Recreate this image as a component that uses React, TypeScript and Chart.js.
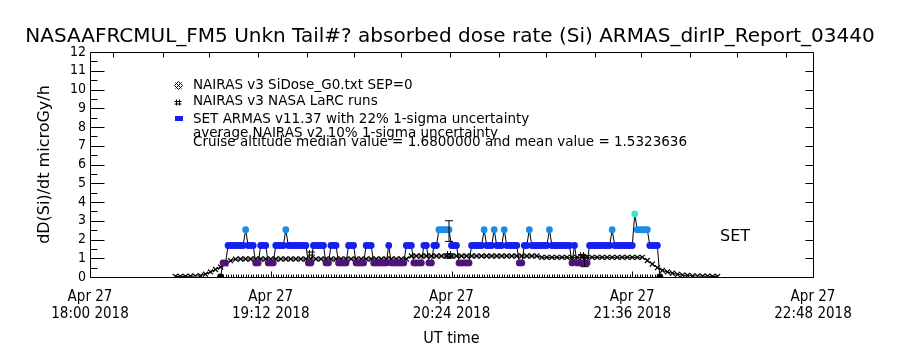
import React, { useEffect, useRef } from 'react';
import { Chart, registerables } from 'chart.js';

Chart.register(...registerables);

// ---------------- text ----------------
const TITLE = 'NASAAFRCMUL_FM5 Unkn Tail#? absorbed dose rate (Si) ARMAS_dirIP_Report_03440';
const Y_TITLE = 'dD(Si)/dt microGy/h';
const X_TITLE = 'UT time';
const LEGEND_TEXT = [
  'NAIRAS v3 SiDose_G0.txt SEP=0',
  'NAIRAS v3 NASA LaRC runs',
  'SET ARMAS v11.37 with 22% 1-sigma uncertainty',
  'average NAIRAS v2 10% 1-sigma uncertainty',
  'Cruise altitude median value = 1.6800000 and mean value = 1.5323636',
];
const SET_LABEL = 'SET';

// ---------------- axes (minutes after 18:00 UT) ----------------
const X_MIN = 0;
const X_MAX = 288;
const X_TICK_MIN = [0, 72, 144, 216, 288];
const X_TICK_DATE = ['Apr 27', 'Apr 27', 'Apr 27', 'Apr 27', 'Apr 27'];
const X_TICK_TIME = ['18:00 2018', '19:12 2018', '20:24 2018', '21:36 2018', '22:48 2018'];
const TOP_TICK_MIN = [9.3, 28.9, 47.4, 67.0, 86.6, 105.2, 123.8, 143.3, 162.9, 181.5, 201.1, 219.6, 239.2, 257.8, 277.3];
const Y_MIN = 0;
const Y_MAX = 12;

// ---------------- SET ARMAS dose rate, one sample per minute from 18:52 ----------------
const SET_T0 = 52;
const SET_DOSE = [
  0,
  0.75, 0.75,
  1.68, 1.68, 1.68, 1.68, 1.68, 1.68, 1.68,
  2.52,
  1.68, 1.68, 1.68,
  0.75, 0.75,
  1.68, 1.68, 1.68,
  0.75, 0.75, 0.75,
  1.68, 1.68, 1.68, 1.68,
  2.52,
  1.68, 1.68, 1.68, 1.68, 1.68, 1.68, 1.68, 1.68,
  0.75, 0.75,
  1.68, 1.68, 1.68, 1.68, 1.68,
  0.75, 0.75,
  1.68, 1.68, 1.68,
  0.75, 0.75, 0.75, 0.75,
  1.68, 1.68, 1.68,
  0.75, 0.75, 0.75, 0.75,
  1.68, 1.68, 1.68,
  0.75, 0.75, 0.75, 0.75, 0.75, 0.75,
  1.68,
  0.75, 0.75, 0.75, 0.75, 0.75, 0.75,
  1.68, 1.68, 1.68,
  0.75, 0.75, 0.75, 0.75,
  1.68, 1.68,
  0.75, 0.75,
  1.68, 1.68,
  2.52, 2.52, 2.52, 2.52, 2.52,
  1.68, 1.68, 1.68,
  0.75, 0.75, 0.75, 0.75, 0.75,
  1.68, 1.68, 1.68, 1.68, 1.68,
  2.52,
  1.68, 1.68, 1.68,
  2.52,
  1.68, 1.68, 1.68,
  2.52,
  1.68, 1.68, 1.68, 1.68, 1.68,
  0.75, 0.75,
  1.68, 1.68,
  2.52,
  1.68, 1.68, 1.68, 1.68, 1.68, 1.68, 1.68,
  2.52,
  1.68, 1.68, 1.68, 1.68, 1.68, 1.68, 1.68, 1.68,
  0.75,
  1.68,
  0.75, 0.75, 0.75, 0.75, 0.75,
  1.68, 1.68, 1.68, 1.68, 1.68, 1.68, 1.68, 1.68, 1.68,
  2.52,
  1.68, 1.68, 1.68, 1.68, 1.68, 1.68, 1.68, 1.68,
  3.36,
  2.52, 2.52, 2.52, 2.52, 2.52,
  1.68, 1.68, 1.68, 1.68,
  0,
];
const SET_LEVELS = [0, 0.75, 1.68, 2.52, 3.36];
const SET_LEVEL_COLORS = ['#000000', '#501478', '#1620ee', '#1e8ce6', '#3ce6c8'];

// ---------------- NAIRAS v3 model, every 2 minutes from 18:34 ----------------
const NAIRAS_T0 = 34;
const NAIRAS_STEP = 2;
const NAIRAS_DOSE = [
  0.03, 0.03, 0.03, 0.04, 0.05, 0.07, 0.15, 0.27, 0.40, 0.53, 0.70, 0.87, 0.95,
  0.96, 0.96, 0.96, 0.96, 0.96, 0.96, 0.96, 0.96, 0.96, 0.96,
  0.96, 0.96, 0.96, 0.96, 0.96, 0.96, 0.96, 0.96, 0.96, 0.96,
  0.96, 0.96, 0.96, 0.96, 0.96, 0.96, 0.96, 0.96, 0.96, 0.96,
  0.96, 0.96, 0.96, 0.96,
  1.12, 1.12, 1.12, 1.12, 1.12, 1.12, 1.12, 1.12, 1.12, 1.12,
  1.12, 1.12, 1.12, 1.12, 1.12, 1.12, 1.12, 1.12, 1.12, 1.12,
  1.12, 1.12, 1.12, 1.12, 1.12, 1.12,
  1.05, 1.05, 1.05, 1.05, 1.05, 1.05, 1.05, 1.05, 1.05, 1.05,
  1.05, 1.05, 1.05, 1.05, 1.05, 1.05, 1.05, 1.05, 1.05, 1.05, 1.05,
  0.88, 0.69, 0.50, 0.35, 0.27, 0.20, 0.14, 0.10, 0.08, 0.06, 0.05, 0.04, 0.04, 0.03, 0.03,
];

// ---------------- NAIRAS LaRC runs ----------------
const LARC_MIN = [88, 143, 196];
const LARC_DOSE = [1.25, 1.15, 1.12];

// ---------------- 1-sigma error bars ----------------
const ERR_MIN = [143, 143, 197];
const ERR_LO = [1.9, 1.01, 0.55];
const ERR_HI = [3.0, 1.23, 1.15];

const FONT = '"DejaVu Sans", sans-serif';
const FONT_C = '"DejaVu Sans Condensed", "DejaVu Sans", sans-serif';

function levelColor(v: number) {
  let best = 0;
  for (let i = 0; i < SET_LEVELS.length; i++) {
    if (Math.abs(SET_LEVELS[i] - v) < Math.abs(SET_LEVELS[best] - v)) best = i;
  }
  return SET_LEVEL_COLORS[best];
}

function makeHash(): HTMLCanvasElement {
  const c = document.createElement('canvas');
  c.width = 8;
  c.height = 8;
  const g = c.getContext('2d')!;
  g.strokeStyle = '#000';
  g.lineWidth = 1;
  g.beginPath();
  g.moveTo(2.5, 0); g.lineTo(2.5, 8);
  g.moveTo(5.5, 0); g.lineTo(5.5, 8);
  g.moveTo(0, 2.5); g.lineTo(8, 2.5);
  g.moveTo(0, 5.5); g.lineTo(8, 5.5);
  g.stroke();
  return c;
}

const framePlugin = {
  id: 'idlFrame',
  afterDatasetsDraw(chart: any) {
    const { ctx, chartArea: a, scales } = chart;
    const xs = scales.x;
    const ys = scales.y;
    const L = Math.round(a.left) + 0.5;
    const R = Math.round(a.right) + 0.5;
    const T = Math.round(a.top) + 0.5;
    const B = Math.round(a.bottom) + 0.5;
    ctx.save();
    ctx.strokeStyle = '#000';
    ctx.lineWidth = 1;
    ctx.beginPath();
    ctx.rect(L, T, R - L, B - T);
    for (let v = Y_MIN; v <= Y_MAX + 1e-9; v += 0.5) {
      const py = Math.round(ys.getPixelForValue(v)) + 0.5;
      const major = Math.abs(v - Math.round(v)) < 1e-6;
      ctx.moveTo(L, py);
      ctx.lineTo(L + (major ? 14 : 7), py);
      if (major) {
        ctx.moveTo(R, py);
        ctx.lineTo(R - 8, py);
      }
    }
    X_TICK_MIN.forEach((m) => {
      const px = Math.round(xs.getPixelForValue(m)) + 0.5;
      ctx.moveTo(px, B);
      ctx.lineTo(px, B - 6);
    });
    TOP_TICK_MIN.forEach((m) => {
      const px = Math.round(xs.getPixelForValue(m)) + 0.5;
      ctx.moveTo(px, T);
      ctx.lineTo(px, T + 5);
    });
    SET_DOSE.forEach((_, i) => {
      const px = Math.round(xs.getPixelForValue(SET_T0 + i)) + 0.5;
      ctx.moveTo(px, B);
      ctx.lineTo(px, B - 3);
    });
    ctx.stroke();
    ctx.restore();
  },
  afterDraw(chart: any) {
    const ctx = chart.ctx;
    ctx.save();
    ctx.fillStyle = '#000';
    ctx.strokeStyle = '#000';
    ctx.lineWidth = 1;
    // legend symbols
    ctx.beginPath();
    const sx = 178.5, sy1 = 85.5;
    ctx.moveTo(sx - 3, sy1 - 3); ctx.lineTo(sx + 3, sy1 + 3);
    ctx.moveTo(sx - 3, sy1 + 3); ctx.lineTo(sx + 3, sy1 - 3);
    ctx.moveTo(sx, sy1 - 4); ctx.lineTo(sx + 4, sy1); ctx.lineTo(sx, sy1 + 4); ctx.lineTo(sx - 4, sy1); ctx.closePath();
    const sy2 = 102.5;
    ctx.moveTo(sx - 2, sy2 - 3); ctx.lineTo(sx - 2, sy2 + 3);
    ctx.moveTo(sx + 1, sy2 - 3); ctx.lineTo(sx + 1, sy2 + 3);
    ctx.moveTo(sx - 4, sy2 - 1); ctx.lineTo(sx + 3, sy2 - 1);
    ctx.moveTo(sx - 4, sy2 + 1.5); ctx.lineTo(sx + 3, sy2 + 1.5);
    ctx.stroke();
    ctx.fillStyle = SET_LEVEL_COLORS[2];
    ctx.fillRect(175, 116, 8, 5);
    // legend text
    ctx.fillStyle = '#000';
    ctx.font = '13.5px ' + FONT;
    ctx.textAlign = 'left';
    ctx.textBaseline = 'middle';
    const ys = [85, 101, 119, 133, 142];
    LEGEND_TEXT.forEach((t, i) => ctx.fillText(t, 193, ys[i]));
    ctx.font = '16px ' + FONT;
    ctx.fillText(SET_LABEL, 720, 237);
    ctx.restore();
  },
};

export default function App() {
  const ref = useRef<HTMLCanvasElement | null>(null);
  useEffect(() => {
    document.body.style.margin = '0';
    const canvas = ref.current!;
    const hash = makeHash();
    const errSets = ERR_MIN.map((m, i) => ({
      type: 'line' as const,
      data: [{ x: m, y: ERR_LO[i] }, { x: m, y: ERR_HI[i] }],
      borderColor: '#000',
      borderWidth: 1,
      pointStyle: 'line' as const,
      pointRadius: 4,
      pointBorderColor: '#000',
      pointBorderWidth: 1,
    }));
    const chart = new Chart(canvas, {
      type: 'line',
      data: {
        datasets: [
          ...errSets,
          {
            data: LARC_MIN.map((m, i) => ({ x: m, y: LARC_DOSE[i] })),
            showLine: false,
            pointStyle: hash as any,
            pointRadius: 4,
          },
          {
            data: SET_DOSE.map((v, i) => ({ x: SET_T0 + i, y: v })),
            borderColor: '#000',
            borderWidth: 1,
            pointStyle: 'circle',
            pointRadius: 3.4,
            pointBorderWidth: 0,
            pointBackgroundColor: (c: any) => levelColor(c.raw ? c.raw.y : 0),
            pointBorderColor: (c: any) => levelColor(c.raw ? c.raw.y : 0),
          },
          {
            data: NAIRAS_DOSE.map((v, i) => ({ x: NAIRAS_T0 + i * NAIRAS_STEP, y: v })),
            borderColor: '#000',
            borderWidth: 1,
            pointStyle: 'crossRot',
            pointRadius: 3.5,
            pointBorderColor: '#000',
            pointBorderWidth: 1.2,
          },
        ],
      },
      options: {
        animation: false,
        responsive: false,
        devicePixelRatio: 1,
        layout: { padding: { left: 0, right: 0, top: 0, bottom: 0 } },
        plugins: {
          legend: { display: false },
          tooltip: { enabled: false },
          title: {
            display: true,
            text: TITLE,
            color: '#000',
            font: { family: FONT, size: 20, weight: 'normal', lineHeight: 1.2 },
            padding: { top: 25, bottom: 3 },
          },
        },
        scales: {
          x: {
            type: 'linear',
            min: X_MIN,
            max: X_MAX,
            afterFit: (s: any) => { s.height = 73; },
            grid: { display: false, drawTicks: false },
            border: { display: false },
            ticks: {
              stepSize: 72,
              autoSkip: false,
              maxRotation: 0,
              padding: 12,
              color: '#000',
              font: { family: FONT_C, size: 15, lineHeight: 1.12 },
              callback: (v: any) => {
                const i = X_TICK_MIN.indexOf(Number(v));
                return i >= 0 ? [X_TICK_DATE[i], X_TICK_TIME[i]] : '';
              },
            },
            title: {
              display: true,
              text: X_TITLE,
              color: '#000',
              font: { family: FONT_C, size: 16, lineHeight: 1.2 },
              padding: { top: 0, bottom: 2 },
            },
          },
          y: {
            min: Y_MIN,
            max: Y_MAX,
            afterFit: (s: any) => { s.width = 90; },
            grid: { display: false, drawTicks: false },
            border: { display: false },
            ticks: {
              stepSize: 1,
              autoSkip: false,
              padding: 4,
              color: '#000',
              font: { family: FONT_C, size: 14 },
            },
            title: {
              display: true,
              text: Y_TITLE,
              color: '#000',
              font: { family: FONT, size: 16, lineHeight: 1.2 },
              padding: { top: 35, bottom: 0 },
            },
          },
          y2: {
            position: 'right',
            min: Y_MIN,
            max: Y_MAX,
            afterFit: (s: any) => { s.width = 87; },
            grid: { display: false, drawTicks: false },
            border: { display: false },
            ticks: { display: false },
          },
        },
      },
      plugins: [framePlugin],
    });
    return () => chart.destroy();
  }, []);
  return <canvas ref={ref} width={900} height={350} style={{ display: 'block' }} />;
}
